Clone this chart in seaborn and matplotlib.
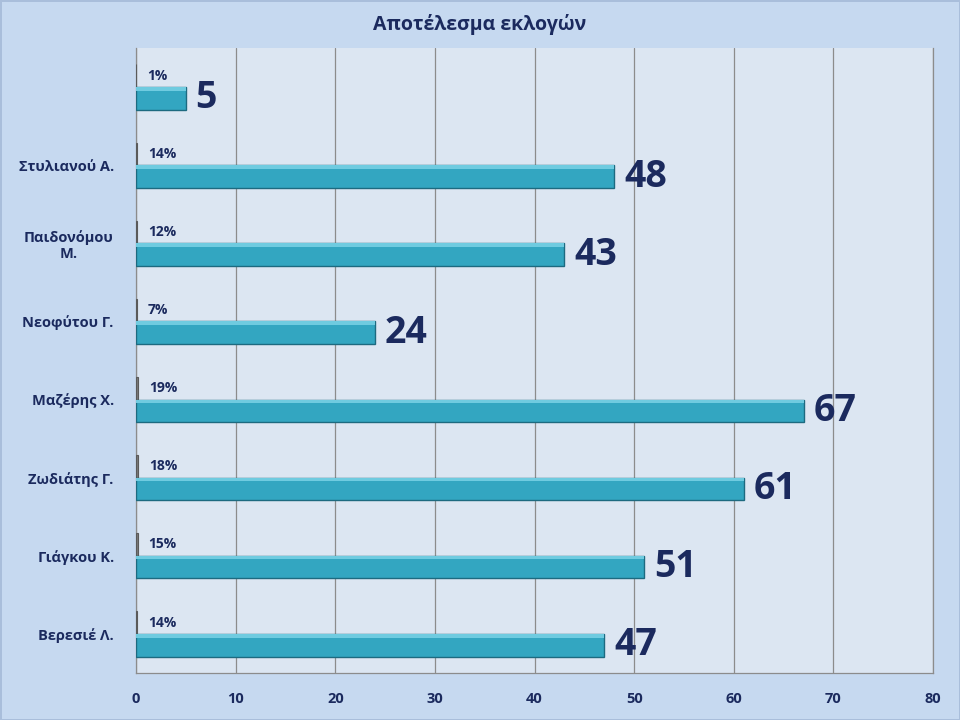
import matplotlib

matplotlib.use("Agg")
import matplotlib.pyplot as plt
import pandas as pd
import seaborn as sns

# values, top row first
candidates = ["", "Στυλιανού Α.", "Παιδονόμου\nΜ.", "Νεοφύτου Γ.", "Μαζέρης Χ.",
              "Ζωδιάτης Γ.", "Γιάγκου Κ.", "Βερεσιέ Λ."]
votes = [5, 48, 43, 24, 67, 61, 51, 47]
shares = [0.01, 0.14, 0.12, 0.07, 0.19, 0.18, 0.15, 0.14]
x_ticks = [0, 10, 20, 30, 40, 50, 60, 70, 80]

NAVY = "#1B2A5E"
TEAL = "#33A6C1"

sns.set_style("white")
plt.rcParams["font.family"] = ["Open Sans", "Noto Sans", "DejaVu Sans"]

df = pd.concat([
    pd.DataFrame({"candidate": candidates, "value": shares, "series": "share"}),
    pd.DataFrame({"candidate": candidates, "value": votes, "series": "votes"}),
])

fig = plt.figure(figsize=(9.6, 7.2), dpi=100)
fig.patch.set_facecolor("#C6D9F0")
fig.patch.set_edgecolor("#A9BEDB")
fig.patch.set_linewidth(1.0)
ax = fig.add_axes([0.1417, 0.0653, 0.8303, 0.868])
ax.set_facecolor("#DCE6F2")

sns.barplot(data=df, y="candidate", x="value", hue="series", hue_order=["share", "votes"],
            order=candidates, palette={"share": "#7A7A7A", "votes": TEAL}, saturation=1,
            width=0.58, dodge=True, orient="h", legend=False, ax=ax, zorder=3)

share_bars, vote_bars = ax.containers[0], ax.containers[1]
for p in vote_bars:
    p.set_edgecolor("#1D6A80")
    p.set_linewidth(1.0)
    # lighter top strip to hint the 3D look of the original
    x0, y0 = p.get_x(), p.get_y()
    ax.add_patch(plt.Rectangle((x0, y0), p.get_width(), p.get_height() * 0.16,
                               facecolor="#6FCBE0", edgecolor="none", zorder=4))
for p in share_bars:
    p.set_edgecolor("#5A5A5A")
    p.set_linewidth(0.8)

ax.bar_label(share_bars, labels=[f"{round(s * 100)}%" for s in shares], padding=8,
             color=NAVY, fontsize=10, fontweight="bold")
ax.bar_label(vote_bars, labels=[str(v) for v in votes], padding=7,
             color=NAVY, fontsize=27, fontweight="bold")

ax.set_xlim(0, 80)
ax.set_xticks(x_ticks)
ax.grid(axis="x", color="#8C8C8C", linewidth=0.9, zorder=0)
ax.grid(axis="y", visible=False)
ax.set_axisbelow(True)
ax.set_xlabel("")
ax.set_ylabel("")
ax.tick_params(axis="x", length=0, pad=14, labelsize=10.5, labelcolor=NAVY)
ax.tick_params(axis="y", length=0, pad=16, labelsize=10.5, labelcolor=NAVY)
for lab in ax.get_xticklabels() + ax.get_yticklabels():
    lab.set_fontweight("bold")
for lab in ax.get_yticklabels():
    lab.set_multialignment("center")

for side in ["left", "bottom", "right"]:
    ax.spines[side].set_color("#8C8C8C")
    ax.spines[side].set_linewidth(0.9)
ax.spines["top"].set_visible(False)

fig.text(0.5, 0.966, "Αποτέλεσμα εκλογών", ha="center", va="center",
         fontsize=14, fontweight="bold", color=NAVY)

fig.savefig("out.png", dpi=100, facecolor=fig.get_facecolor(), edgecolor=fig.get_edgecolor())
